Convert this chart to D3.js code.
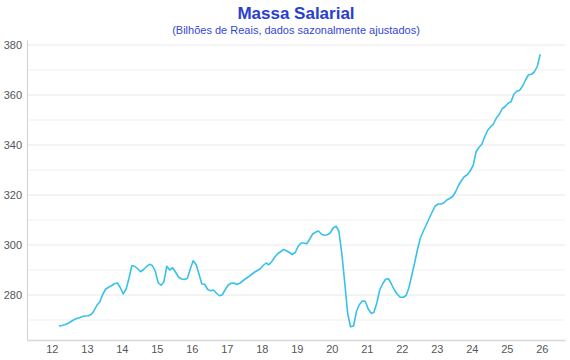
<!DOCTYPE html>
<html>
<head>
<meta charset="utf-8">
<script src="https://cdn.jsdelivr.net/npm/d3@7"></script>
<style>
  body { margin: 0; background: #fff; }
  #chart { width: 570px; height: 360px; }
  text { font-family: "Liberation Sans", Arial, sans-serif; }
</style>
</head>
<body>
<div id="chart"></div>
<script>
// first observation: March 2012, monthly through Dec 2025
const startYear = 2012;
const startMonth = 2; // 0 = Jan

// massa salarial, bilhões de reais (sazonalmente ajustado)
const massa = [
  267.6, 267.8, 268.1, 268.6, 269.3, 270.0, 270.6, 270.9, 271.4, 271.6,
  271.7, 272.2, 273.6, 275.9, 277.2, 280.2, 282.3, 283.1, 283.7, 284.5,
  284.8, 283.0, 280.4, 282.4, 286.5, 291.7, 291.5, 290.5, 289.3, 290.2,
  291.3, 292.3, 291.8, 289.6, 284.9, 283.9, 285.2, 291.5, 290.0, 290.9,
  289.2, 287.2, 286.4, 286.2, 286.6, 290.3, 293.7, 292.2, 288.5, 284.4,
  284.3, 282.2, 281.7, 282.0, 280.7, 279.7, 280.1, 282.2, 284.0, 284.7,
  284.8, 284.2, 284.7, 285.6, 286.5, 287.3, 288.2, 289.1, 289.8, 290.5,
  291.8, 292.8, 292.1, 293.4, 295.1, 296.5, 297.3, 298.2, 297.7, 297.0,
  296.2, 297.0, 299.5, 300.8, 300.8, 300.5, 302.3, 304.4, 305.1, 305.6,
  304.3, 303.9, 304.1, 304.8, 306.8, 307.5, 305.5, 296.5, 285.0, 272.5,
  267.3, 267.6, 273.5, 276.2, 277.6, 277.5, 274.4, 272.7, 273.0, 276.8,
  282.0, 284.5, 286.3, 286.5, 284.3, 282.0, 280.3, 279.1, 279.1, 279.8,
  282.8, 287.9, 292.9, 298.5, 302.9, 305.7, 308.2, 310.8, 313.3, 315.6,
  316.4, 316.4, 316.8, 318.0, 318.6, 319.4, 321.2, 323.8, 325.8, 327.3,
  328.1, 329.6, 331.8, 337.3, 339.0, 340.3, 343.3, 345.9, 347.2, 348.5,
  350.9, 352.3, 354.6, 355.4, 356.7, 357.4, 360.3, 361.5, 361.9, 363.6,
  366.0, 368.1, 368.3, 369.2, 371.5, 376.3
];

const xTickYears = [2012, 2013, 2014, 2015, 2016, 2017, 2018, 2019, 2020, 2021, 2022, 2023, 2024, 2025, 2026];
const yTickLabels = [280, 300, 320, 340, 360, 380];
const yGridMinor = [270, 290, 310, 330, 350, 370];

const title = "Massa Salarial";
const subtitle = "(Bilhões de Reais, dados sazonalmente ajustados)";

const width = 570;
const height = 360;
const margin = { top: 40, right: 5, bottom: 20, left: 27 };

const data = massa.map((v, i) => ({
  date: new Date(startYear, startMonth + i, 15),
  value: v,
}));

const svg = d3
  .select("#chart")
  .append("svg")
  .attr("width", width)
  .attr("height", height);

const x = d3
  .scaleTime()
  .domain([new Date(2011, 3, 17), new Date(2026, 7, 31)])
  .range([margin.left, width - margin.right]);

const y = d3
  .scaleLinear()
  .domain([262, 382])
  .range([height - margin.bottom, margin.top]);

// grid
svg
  .append("g")
  .selectAll("line.minor")
  .data(yGridMinor)
  .enter()
  .append("line")
  .attr("x1", margin.left)
  .attr("x2", width - margin.right)
  .attr("y1", (d) => y(d))
  .attr("y2", (d) => y(d))
  .attr("stroke", "#f1f1f1")
  .attr("stroke-width", 1);

svg
  .append("g")
  .selectAll("line.major")
  .data(yTickLabels)
  .enter()
  .append("line")
  .attr("x1", margin.left)
  .attr("x2", width - margin.right)
  .attr("y1", (d) => y(d))
  .attr("y2", (d) => y(d))
  .attr("stroke", "#e8e8e8")
  .attr("stroke-width", 1);

// axes
const yAxis = svg
  .append("g")
  .attr("transform", `translate(${margin.left},0)`)
  .call(
    d3.axisLeft(y).tickValues(yTickLabels).tickSize(0).tickPadding(5)
  );
yAxis.select(".domain").attr("stroke", "#d0d0d0");
yAxis
  .selectAll("text")
  .attr("fill", "#555")
  .style("font-size", "11px");

const xAxis = svg
  .append("g")
  .attr("transform", `translate(0,${height - margin.bottom})`)
  .call(
    d3
      .axisBottom(x)
      .tickValues(xTickYears.map((yr) => new Date(yr, 0, 1)))
      .tickFormat(d3.timeFormat("%y"))
      .tickSize(0)
      .tickPadding(5)
  );
xAxis.select(".domain").attr("stroke", "#d8d8d8").attr("stroke-width", 1.5);
xAxis
  .selectAll("text")
  .attr("fill", "#555")
  .style("font-size", "11px");

// line
const line = d3
  .line()
  .x((d) => x(d.date))
  .y((d) => y(d.value));

svg
  .append("path")
  .datum(data)
  .attr("fill", "none")
  .attr("stroke", "#38c1ea")
  .attr("stroke-width", 1.6)
  .attr("stroke-linejoin", "round")
  .attr("d", line);

// titles
const cx = (margin.left + width - margin.right) / 2;
svg
  .append("text")
  .attr("x", cx)
  .attr("y", 19)
  .attr("text-anchor", "middle")
  .attr("fill", "#2a3ecf")
  .style("font-size", "17px")
  .style("font-weight", "bold")
  .text(title);

svg
  .append("text")
  .attr("x", cx)
  .attr("y", 34)
  .attr("text-anchor", "middle")
  .attr("fill", "#3347d6")
  .style("font-size", "11px")
  .text(subtitle);
</script>
</body>
</html>
